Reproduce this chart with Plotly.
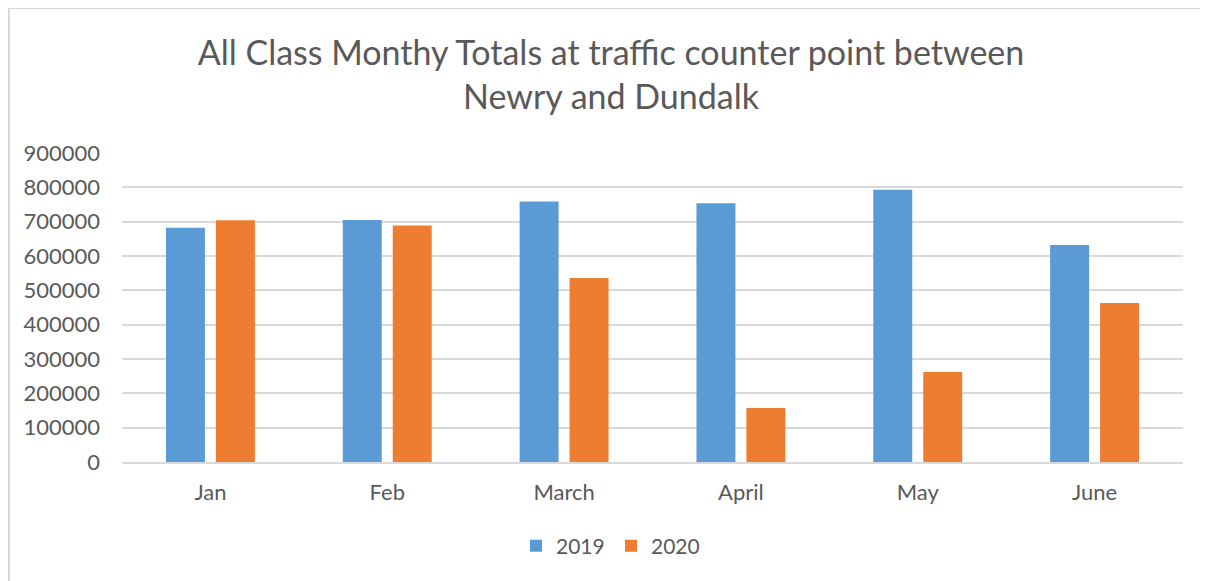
import plotly.graph_objects as go

# ─── DATOS ──────────────────────────────────────────────────
months = ["Jan", "Feb", "March", "April", "May", "June"]
totals_2019 = [682000, 705000, 759000, 754000, 793000, 632000]
totals_2020 = [704000, 689000, 536000, 157000, 262000, 463000]
y_ticks = [0, 100000, 200000, 300000, 400000, 500000, 600000, 700000, 800000, 900000]

TEXT = "#595959"
GRID = "#d9d9d9"
FONT = "Lato"

W, H = 1208, 581
M = dict(l=114, r=33, t=145, b=127)

fig = go.Figure()
fig.add_trace(go.Bar(x=months, y=totals_2019, name="2019", marker=dict(color="#5B9BD5", line_width=0)))
fig.add_trace(go.Bar(x=months, y=totals_2020, name="2020", marker=dict(color="#ED7D31", line_width=0)))

# borde del área del gráfico (cortado a la derecha y abajo)
pw = W - M["l"] - M["r"]
ph = H - M["t"] - M["b"]
def px_x(p):
    return (p - M["l"]) / pw
def px_y(p):
    return (H - M["b"] - p) / ph

fig.add_shape(type="rect", xref="paper", yref="paper",
              x0=px_x(1), x1=px_x(1240), y0=px_y(600), y1=px_y(0),
              line=dict(color="#d9d9d9", width=2), fillcolor="rgba(0,0,0,0)", layer="below")

fig.update_layout(
    width=W, height=H,
    margin=M,
    paper_bgcolor="white",
    plot_bgcolor="white",
    font=dict(family=FONT, size=22, color=TEXT),
    title=dict(
        text="All Class Monthy Totals at traffic counter point between<br>Newry and Dundalk",
        x=603 / W, xanchor="center", xref="container",
        y=1 - 57 / H, yanchor="top", yref="container",
        font=dict(family=FONT, size=34, color=TEXT),
    ),
    barmode="group",
    bargap=0.435,
    bargroupgap=0.22,
    showlegend=True,
    legend=dict(
        orientation="h",
        x=603 / W, xanchor="center", xref="container",
        y=1 - 538 / H, yanchor="middle", yref="container",
        font=dict(family=FONT, size=21, color=TEXT),
        itemwidth=30,
        entrywidth=50,
        traceorder="normal",
    ),
)

fig.update_xaxes(
    showgrid=False,
    showline=True, linecolor=GRID, linewidth=2,
    ticks="", ticklabelstandoff=10,
    tickfont=dict(family=FONT, size=22, color=TEXT),
)
fig.update_yaxes(
    range=[0, 900000],
    tickvals=y_ticks,
    ticktext=[str(v) for v in y_ticks],
    showgrid=True, gridcolor=GRID, gridwidth=2,
    zeroline=False,
    showline=False,
    ticks="", ticklabelstandoff=21,
    tickfont=dict(family=FONT, size=22, color=TEXT),
)

fig.write_html("out.html")
